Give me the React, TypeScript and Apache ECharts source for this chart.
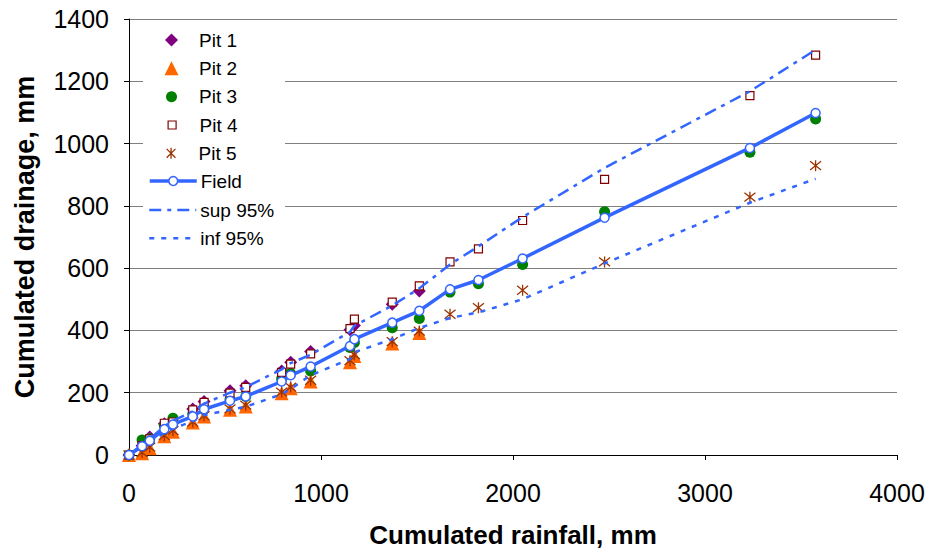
import React, { useEffect, useRef } from "react";
import * as echarts from "echarts";

// Cumulated rainfall (mm) at each measurement date
const rainfall = [0, 68, 108, 184, 229, 332, 391, 526, 608, 795, 842, 946, 1151, 1174, 1371, 1512, 1672, 1820, 2050, 2477, 3234, 3576];

// Cumulated drainage (mm)
const pit1 = [0, 30, 58, 100, 105, 148, 172, 206, 222, 270, 298, 332, 402, 416, 484, 527];
const pit2 = [0, 6, 22, 60, 75, 104, 124, 145, 156, 198, 214, 236, 298, 318, 358, 392];
const pit3 = [0, 48, 52, 95, 118, 132, 152, 178, 188, 245, 262, 270, 345, 361, 409, 438, 523, 550, 612, 781, 972, 1079];
const pit4 = [0, 30, 52, 102, 106, 145, 169, 199, 217, 265, 292, 325, 406, 436, 491, 543, 620, 662, 753, 885, 1154, 1284];
const pit5 = [0, 8, 25, 62, 78, 106, 126, 148, 160, 202, 218, 240, 303, 322, 364, 398, 452, 473, 529, 620, 828, 929];
const field = [0, 28, 46, 83, 98, 124, 147, 174, 188, 236, 256, 284, 350, 372, 425, 463, 532, 562, 631, 762, 986, 1098];
const sup95 = [0, 33, 52, 92, 110, 140, 165, 200, 218, 275, 295, 322, 395, 415, 480, 535, 612, 670, 764, 922, 1168, 1301];
const inf95 = [0, 22, 38, 72, 85, 108, 128, 145, 155, 195, 212, 256, 308, 330, 372, 408, 440, 458, 500, 615, 810, 887];

const xTicks = [0, 1000, 2000, 3000, 4000];
const yTicks = [0, 200, 400, 600, 800, 1000, 1200, 1400];

const FONT = "'Liberation Sans', Arial, sans-serif";
const BLUE = "#3366FF";
const ASTERISK = "path://M1,1L9,9M9,1L1,9M5,0L5,10";

const pair = (ys: number[]) => ys.map((y, i) => [rainfall[i], y]);

export default function App() {
  const ref = useRef<HTMLDivElement>(null);
  useEffect(() => {
    if (!ref.current) return;
    const chart = echarts.init(ref.current, undefined, { renderer: "svg" });
    const rowY = [40, 68.3, 96.7, 125, 153.3, 181, 210, 238.3];
    const ICON_CX = 171.5;
    const TEXT_X = 199;
    const textStyle = { fontSize: 19, lineHeight: 20, fontFamily: FONT, color: "#000" };
    // scatter-type legend entries: a square icon box centred on ICON_CX
    const markLegend = (item: any, i: number, h: number, itemStyle: any) => ({
      data: [item],
      orient: "vertical",
      left: ICON_CX - h / 2,
      top: rowY[i] - 10,
      itemWidth: h,
      itemHeight: h,
      itemGap: 0,
      padding: 0,
      selectedMode: false,
      itemStyle: { opacity: 1, ...itemStyle },
      textStyle: { ...textStyle, padding: [0, 0, 0, TEXT_X - (ICON_CX + h / 2 + 5)] },
    });
    // line-type legend entries
    const lineLegend = (name: string, i: number, itemStyle: any, lineStyle: any) => ({
      data: [name],
      orient: "vertical",
      left: 148,
      top: rowY[i] - 10,
      itemWidth: 47,
      itemHeight: 11,
      itemGap: 0,
      padding: 0,
      selectedMode: false,
      itemStyle,
      lineStyle,
      textStyle: { ...textStyle, padding: [0, 0, 0, TEXT_X - (148 + 47 + 5)] },
    });
    chart.setOption({
      animation: false,
      backgroundColor: "#fff",
      grid: { left: 129, right: 32, top: 19, bottom: 97, containLabel: false },
      graphic: [
        { type: "rect", z: 1, shape: { x: 143, y: 24, width: 142, height: 228 }, style: { fill: "#fff" } },
      ],
      legend: [
        markLegend({ name: "Pit 1", icon: "diamond" }, 0, 13, { color: "#800080", borderWidth: 0 }),
        markLegend({ name: "Pit 2", icon: "triangle" }, 1, 14, { color: "#FF6600", borderWidth: 0 }),
        markLegend({ name: "Pit 3", icon: "circle" }, 2, 11, { color: "#008000", borderWidth: 0 }),
        markLegend({ name: "Pit 4", icon: "rect" }, 3, 8, { color: "#fff", borderColor: "#800000", borderWidth: 1.2 }),
        markLegend({ name: "Pit 5", icon: ASTERISK }, 4, 11, { color: "#993300", borderColor: "#993300", borderWidth: 1.3 }),
        lineLegend("Field", 5, { color: "#fff", borderColor: BLUE, borderWidth: 1.5 }, { color: BLUE, width: 3.5, type: "solid" }),
        lineLegend("sup 95%", 6, { opacity: 0 }, { color: BLUE, width: 2.5, type: [12, 6, 4, 6] }),
        lineLegend("inf 95%", 7, { opacity: 0 }, { color: BLUE, width: 2.5, type: [5, 7] }),
      ],
      xAxis: {
        type: "value",
        min: xTicks[0],
        max: xTicks[xTicks.length - 1],
        interval: 1000,
        name: "Cumulated rainfall, mm",
        nameLocation: "middle",
        nameGap: 67,
        nameTextStyle: { fontSize: 26, fontWeight: "bold", fontFamily: FONT, color: "#000" },
        axisLine: { show: true, lineStyle: { color: "#000", width: 1 } },
        axisTick: { show: true, inside: false, length: 5, lineStyle: { color: "#000" } },
        axisLabel: { fontSize: 25, fontFamily: FONT, color: "#000", margin: 25, formatter: (v: number) => String(v) },
        splitLine: { show: false },
      },
      yAxis: {
        type: "value",
        min: yTicks[0],
        max: yTicks[yTicks.length - 1],
        interval: 200,
        name: "Cumulated drainage, mm",
        nameLocation: "middle",
        nameGap: 91,
        nameRotate: 90,
        nameTextStyle: { fontSize: 27, fontWeight: "bold", fontFamily: FONT, color: "#000" },
        axisLine: { show: true, lineStyle: { color: "#000", width: 1 } },
        axisTick: { show: true, inside: false, length: 5, lineStyle: { color: "#000" } },
        axisLabel: { fontSize: 25, fontFamily: FONT, color: "#000", margin: 20, formatter: (v: number) => String(v) },
        splitLine: { show: true, lineStyle: { color: "#808080", width: 1 } },
      },
      series: [
        {
          name: "Pit 1", type: "scatter", symbol: "diamond", symbolSize: 13,
          itemStyle: { color: "#800080", opacity: 1 }, data: pair(pit1),
        },
        {
          name: "Pit 2", type: "scatter", symbol: "triangle", symbolSize: 14,
          itemStyle: { color: "#FF6600", opacity: 1 }, data: pair(pit2),
        },
        {
          name: "Pit 3", type: "scatter", symbol: "circle", symbolSize: 11,
          itemStyle: { color: "#008000", opacity: 1 }, data: pair(pit3),
        },
        {
          name: "Pit 4", type: "scatter", symbol: "rect", symbolSize: 8,
          itemStyle: { color: "#fff", borderColor: "#800000", borderWidth: 1.2, opacity: 1 }, data: pair(pit4),
        },
        {
          name: "Pit 5", type: "scatter", symbol: ASTERISK, symbolSize: 11,
          itemStyle: { color: "#993300", borderColor: "#993300", borderWidth: 1.3, opacity: 1 }, data: pair(pit5),
        },
        {
          name: "sup 95%", type: "line", symbol: "none", z: 3,
          lineStyle: { color: BLUE, width: 2.5, type: [12, 6, 4, 6] }, data: pair(sup95),
        },
        {
          name: "inf 95%", type: "line", symbol: "none", z: 3,
          lineStyle: { color: BLUE, width: 2.5, type: [5, 7] }, data: pair(inf95),
        },
        {
          name: "Field", type: "line", symbol: "circle", symbolSize: 9, showSymbol: true, z: 4,
          lineStyle: { color: BLUE, width: 3.5 },
          itemStyle: { color: "#fff", borderColor: BLUE, borderWidth: 1.5 },
          data: pair(field),
        },
      ],
    });
    return () => chart.dispose();
  }, []);
  return (
    <div
      ref={ref}
      style={{ position: "fixed", left: 0, top: 0, width: 929, height: 553, background: "#fff" }}
    />
  );
}
